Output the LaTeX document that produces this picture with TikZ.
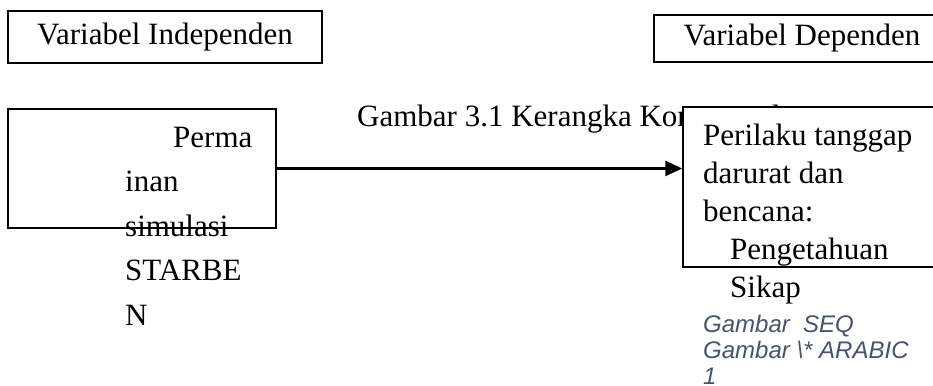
\documentclass[tikz,border=0pt]{standalone}
\usepackage{fontspec}
\setmainfont{Liberation Serif}
\newfontfamily\capfont{Liberation Sans}
\usetikzlibrary{arrows.meta}
\definecolor{capblue}{HTML}{44546A}

\begin{document}
\begin{tikzpicture}[x=1pt,y=-1pt,
    box/.style={draw,line width=1.5pt,inner sep=0pt},
    body/.style={font=\fontsize{31}{44.5}\selectfont,align=left,inner sep=0pt,anchor=base west}]

      \useasboundingbox (0,0) rectangle (933,385);

      \path (165,37) node [box,minimum width=314pt,minimum height=52pt,font=\fontsize{31}{37}\selectfont](var_indep){Variabel Independen};
      \path (802,38.5) node [box,minimum width=296pt,minimum height=47pt,font=\fontsize{31}{37}\selectfont](var_dep){Variabel Dependen};
      \path (357,126) node [anchor=base west,inner sep=0pt,font=\fontsize{31}{37}\selectfont](fig_title){Gambar 3.1 Kerangka Konseptual};
      % base anchor of a multi-line node = baseline of its last line
      \path (125,325) node [body](txt_game){\hspace*{48pt}Perma\\inan\\simulasi\\STARBE\\N};
      \path (142,168.5) node [box,minimum width=268pt,minimum height=119pt](box_game){};
      \path (816.5,187) node [box,fill=white,minimum width=267pt,minimum height=160pt](box_resp){};
      \path (703,297) node [body,font=\fontsize{31}{38}\selectfont](txt_resp){Perilaku tanggap\\darurat dan\\bencana:\\\hspace*{27pt}Pengetahuan\\\hspace*{27pt}Sikap};
      \path (703,384) node [anchor=base west,inner sep=0pt,align=left,text=capblue,font=\capfont\itshape\fontsize{24}{26}\selectfont](txt_seq){Gambar\ \ SEQ\\Gambar \textbackslash* ARABIC\\1};
      \draw[-{Triangle[length=17pt,width=15pt]},line width=2.4pt] (box_game.east) -- (box_game.east -| box_resp.west);

    \end{tikzpicture}
\end{document}
